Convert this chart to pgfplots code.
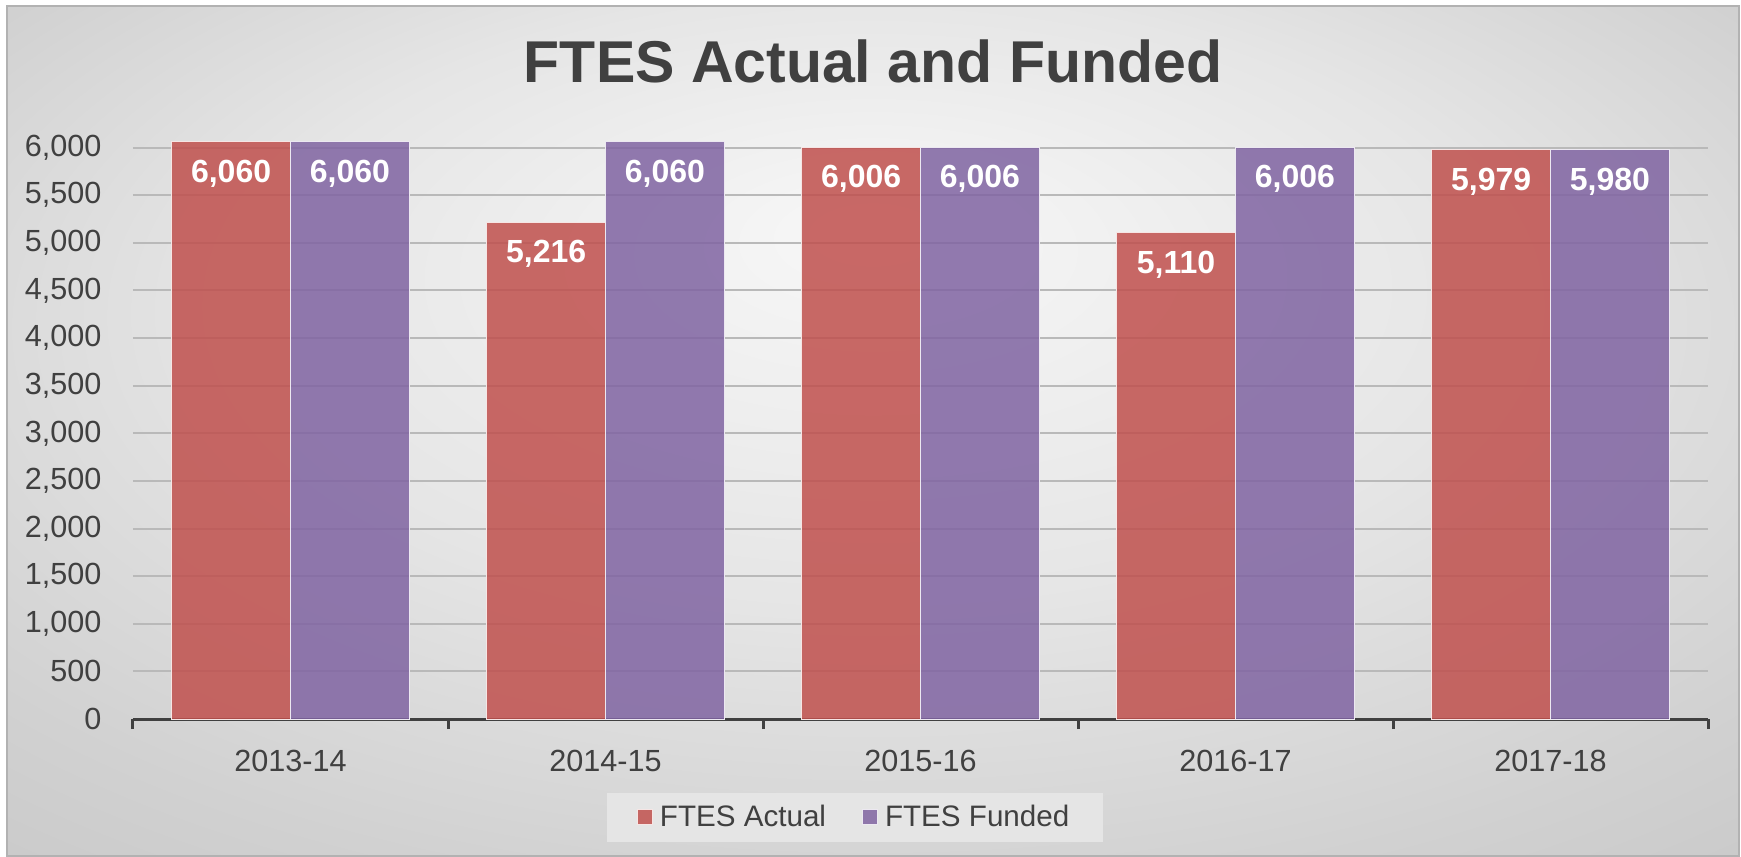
\documentclass[border=0pt]{standalone}
\usepackage{pgfplots}
\pgfplotsset{compat=1.18}
\usepackage{fontspec}
\setmainfont{Liberation Sans}
\definecolor{txt}{RGB}{64,64,64}
\definecolor{cred}{RGB}{192,80,77}
\definecolor{cpur}{RGB}{128,100,162}
\definecolor{gridc}{RGB}{185,185,185}
\pgfdeclareradialshading{bgshade}{\pgfpoint{0bp}{12bp}}{%
  color(0bp)=(white!97!black);
  color(18bp)=(white!90!black);
  color(32bp)=(white!82!black);
  color(50bp)=(white!74!black)}
\begin{document}
\begin{tikzpicture}[x=1pt,y=1pt]
\useasboundingbox (0,0) rectangle (870.5,428.5);
\fill[white] (0,0) rectangle (870.5,428.5);
\shade[shading=bgshade] (3.5,0.5) rectangle (869.5,425.5);
\draw[black!30, line width=1pt] (3.5,0.5) rectangle (869.5,425.5);
\node[text=txt, font=\bfseries\fontsize{29.5}{34}\selectfont] at (436.5,398) {FTES Actual and Funded};
\begin{axis}[
  at={(66.5pt,69pt)}, anchor=south west,
  scale only axis, width=787.5pt, height=300pt,
  xmin=-0.5, xmax=4.5, ymin=0, ymax=6300,
  ybar=0pt, bar width=59.4pt,
  xtick={0,1,2,3,4},
  xticklabels={2013-14,2014-15,2015-16,2016-17,2017-18},
  minor xtick={-0.5,0.5,1.5,2.5,3.5,4.5},
  ytick={0,500,...,6000},
  axis x line*=bottom,
  axis y line*=left,
  y axis line style={draw=none},
  x axis line style={draw=txt, line width=1.5pt, -},
  xtick style={draw=none},
  ytick style={draw=none},
  minor x tick style={draw=txt, line width=1.5pt},
  minor tick length=5pt,
  tick align=outside,
  ymajorgrids,
  major grid style={draw=gridc, line width=1pt},
  tick label style={text=txt, font=\fontsize{15.3}{18}\selectfont},
  xticklabel style={yshift=-8pt},
  yticklabel style={xshift=-8pt},
  /pgf/number format/.cd, 1000 sep={,}, assume math mode=true,
  /pgfplots/.cd,
  nodes near coords,
  every node near coord/.append style={anchor=center, yshift=-16pt, text=white, font=\bfseries\fontsize{16}{19}\selectfont},
  legend columns=2,
  legend style={at={(0.4585,-0.164)}, anchor=center, draw=none, fill=black!10,
    inner xsep=15pt, inner ysep=4pt,
    font=\fontsize{14.8}{18}\selectfont, text=txt,
    /tikz/every even column/.append style={column sep=16pt}},
  legend cell align=left,
  legend image code/.code={\draw[#1] (0pt,-3.75pt) rectangle (7.5pt,3.75pt); \path (9pt,0pt);},
]
\addplot[fill=cred, fill opacity=0.85, draw=white!85!cred, line width=0.5pt, text opacity=1] coordinates {(0,6060) (1,5216) (2,6006) (3,5110) (4,5979)};
\addplot[fill=cpur, fill opacity=0.85, draw=white!85!cpur, line width=0.5pt, text opacity=1] coordinates {(0,6060) (1,6060) (2,6006) (3,6006) (4,5980)};
\legend{FTES Actual, FTES Funded}
\end{axis}
\end{tikzpicture}
\end{document}
